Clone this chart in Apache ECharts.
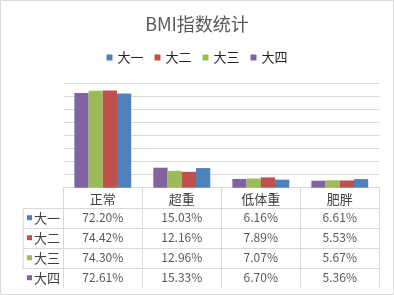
<!DOCTYPE html>
<html>
<head>
<meta charset="utf-8">
<script src="https://cdn.jsdelivr.net/npm/echarts@6/dist/echarts.min.js"></script>
<style>
  html, body { margin: 0; padding: 0; background: #fff; }
  #main { width: 394px; height: 295px; }
</style>
</head>
<body>
<div id="main"></div>
<script>
const categories = ['正常', '超重', '低体重', '肥胖']
const seriesNames = ['大一', '大二', '大三', '大四']
const values = {
  '大一': [72.20, 15.03, 6.16, 6.61],
  '大二': [74.42, 12.16, 7.89, 5.53],
  '大三': [74.30, 12.96, 7.07, 5.67],
  '大四': [72.61, 15.33, 6.70, 5.36]
}
const colors = {
  '大一': '#4f81bd',
  '大二': '#c0504d',
  '大三': '#9bbb59',
  '大四': '#8064a2'
}

const font = '"Noto Sans CJK SC", "Noto Sans", sans-serif'
const lineColor = '#d9d9d9'

// plot area (px)
const plotLeft = 63.3, plotRight = 379.3, plotTop = 83.3, axisY = 187.7
const rowH = 20
const tableLeft = 22.7
const colW = (plotRight - plotLeft) / categories.length

let myChart = echarts.init(document.getElementById('main'))

// bars are drawn 大四 .. 大一 left to right, like the source
const barOrder = seriesNames.slice().reverse()

let graphics = []
// outer border
graphics.push({
  type: 'rect', silent: true,
  shape: { x: 0.5, y: 0.5, width: 393, height: 294 },
  style: { fill: 'none', stroke: lineColor, lineWidth: 1 }
})
// table horizontal lines
for (let r = 1; r <= seriesNames.length; r++) {
  let y = Math.round(axisY + rowH * r) + 0.5
  graphics.push({
    type: 'line', silent: true,
    shape: { x1: tableLeft, y1: y, x2: plotRight, y2: y },
    style: { stroke: lineColor, lineWidth: 1 }
  })
}
// left border of row-label column
graphics.push({
  type: 'line', silent: true,
  shape: { x1: tableLeft + 0.5, y1: Math.round(axisY + rowH) + 0.5, x2: tableLeft + 0.5, y2: Math.round(axisY + rowH * 4) + 0.5 },
  style: { stroke: lineColor, lineWidth: 1 }
})
seriesNames.forEach((name, r) => {
  let cy = axisY + rowH * (r + 1) + rowH / 2
  graphics.push({
    type: 'rect', silent: true,
    shape: { x: 27, y: cy - 2.5, width: 5, height: 5 },
    style: { fill: colors[name] }
  })
  graphics.push({
    type: 'text', silent: true,
    x: 34, y: cy,
    style: { text: name, fill: '#404040', font: '13px ' + font, verticalAlign: 'middle', align: 'left' }
  })
  values[name].forEach((v, c) => {
    graphics.push({
      type: 'text', silent: true,
      x: plotLeft + colW * c + colW / 2, y: cy,
      style: { text: v.toFixed(2) + '%', fill: '#595959', font: '12px ' + font, verticalAlign: 'middle', align: 'center' }
    })
  })
})

const option = {
  animation: false,
  title: {
    text: 'BMI指数统计',
    left: 'center',
    top: 10,
    textStyle: { fontFamily: font, fontSize: 18, fontWeight: 'normal', color: '#595959' }
  },
  legend: {
    data: seriesNames,
    top: 46,
    left: 'center',
    icon: 'rect',
    itemWidth: 6,
    itemHeight: 6,
    itemGap: 11,
    textStyle: { fontFamily: font, fontSize: 13, color: '#262626' }
  },
  grid: {
    left: plotLeft,
    right: 394 - plotRight,
    top: plotTop,
    bottom: 295 - axisY,
    containLabel: false
  },
  xAxis: {
    type: 'category',
    data: categories,
    axisLine: { lineStyle: { color: lineColor } },
    axisTick: { show: true, length: rowH * 5, lineStyle: { color: lineColor } },
    axisLabel: { margin: 5, fontFamily: font, fontSize: 13, color: '#404040' }
  },
  yAxis: {
    type: 'value',
    min: 0,
    max: 80,
    interval: 10,
    axisLabel: { show: false },
    axisLine: { show: false },
    axisTick: { show: false },
    splitLine: { lineStyle: { color: lineColor } }
  },
  series: barOrder.map((name) => ({
    name: name,
    type: 'bar',
    data: values[name],
    barGap: '0%',
    barCategoryGap: '28%',
    itemStyle: { color: colors[name] }
  })),
  graphic: graphics
}

myChart.setOption(option)
</script>
</body>
</html>
